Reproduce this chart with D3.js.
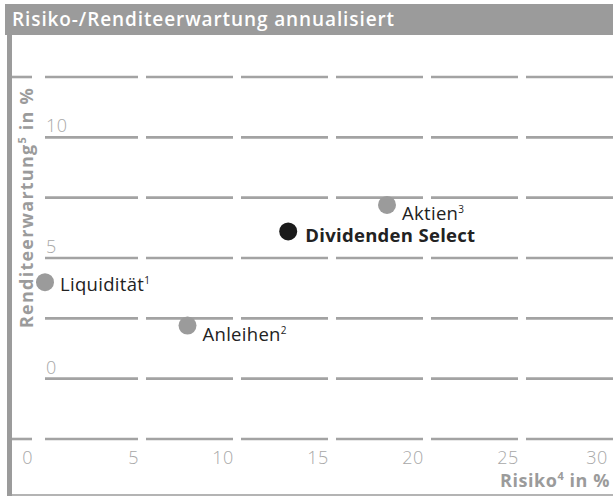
<html>
<head>
<meta charset="utf-8">
<title>Risiko-/Renditeerwartung</title>
<script src="https://d3js.org/d3.v7.min.js"></script>
<style>
    body { margin: 0; background: #fff; }
    text { font-family: "Open Sans", "Noto Sans", sans-serif; }
</style>
</head>
<body>
<script>
    // values
    const names = ["Liquidität", "Anleihen", "Dividenden Select", "Aktien"]
    const notes = ["1", "2", "", "3"]
    const risk = [0, 7.5, 12.8, 18]
    const ret = [4.0, 2.2, 6.1, 7.2]
    const highlight = [false, false, true, false]
    const labelSide = ["right", "below", "right", "below"]

    const xTicks = [0, 5, 10, 15, 20, 25, 30]
    const yTicks = [0, 5, 10]
    const yGrid = [-2.5, 0, 2.5, 5, 7.5, 10, 12.5]

    const W = 613, H = 496
    const grey = "#9b9b9b"

    const svg = d3.select("body").append("svg").attr("width", W).attr("height", H)

    const x = d3.scaleLinear().domain([0, 30]).range([45, 615])
    const y = d3.scaleLinear().domain([-2.5, 12.5]).range([439, 77])

    // stretch a text node to a given width via letter-spacing
    function fit(sel, w) {
        const n = sel.node()
        const len = n.getComputedTextLength()
        const chars = n.textContent.length
        sel.attr("letter-spacing", (w - len) / chars)
    }

    // frame
    svg.append("rect").attr("x", 5).attr("y", 4).attr("width", W - 5).attr("height", 31).attr("fill", grey)
    const title = svg.append("text").attr("x", 12).attr("y", 26)
        .attr("fill", "#fff").attr("font-size", 19).attr("font-weight", 600)
        .text("Risiko-/Renditeerwartung annualisiert")
    fit(title, 383)
    svg.append("rect").attr("x", 7).attr("y", 35).attr("width", 5).attr("height", H - 35).attr("fill", grey)
    svg.append("line").attr("x1", 7).attr("x2", W).attr("y1", 495).attr("y2", 495)
        .attr("stroke", grey).attr("stroke-width", 1.5)

    // dashed horizontal grid: one piece per x interval
    const pieces = []
    yGrid.forEach(g => {
        if (g === yGrid[0] || g === yGrid[yGrid.length - 1]) pieces.push({ g, a: 12, b: 32 })
        d3.pairs(xTicks).forEach(([p, q], i) => {
            pieces.push({ g, a: i === 0 ? x(p) : x(p) + 6, b: q === 30 ? W : x(q) - 2 })
        })
    })
    svg.append("g").selectAll("line").data(pieces).join("line")
        .attr("x1", d => d.a).attr("x2", d => d.b)
        .attr("y1", d => y(d.g)).attr("y2", d => y(d.g))
        .attr("stroke", "#a3a3a3").attr("stroke-width", 2.6)

    // tick labels
    svg.append("g").selectAll("text").data(yTicks).join("text")
        .attr("x", 46).attr("y", d => y(d) - 5)
        .attr("fill", "#a8a8a8").attr("font-size", 18).attr("font-weight", 300)
        .attr("letter-spacing", 0.6)
        .text(d => d)
    svg.append("g").selectAll("text").data(xTicks).join("text")
        .attr("x", d => d === 0 ? 33 : Math.min(x(d) - 1, 608)).attr("y", 464)
        .attr("text-anchor", "end")
        .attr("fill", "#a8a8a8").attr("font-size", 18).attr("font-weight", 300)
        .attr("letter-spacing", 0.6)
        .text(d => d)

    // axis titles
    const xt = svg.append("text").attr("x", 610).attr("y", 487).attr("text-anchor", "end")
        .attr("fill", grey).attr("font-size", 18).attr("font-weight", 700)
    xt.append("tspan").text("Risiko")
    xt.append("tspan").attr("font-size", 11).attr("dy", -7).text("4")
    xt.append("tspan").attr("dy", 7).text(" in %")
    fit(xt, 110)

    const yt = svg.append("text").attr("transform", "translate(33,328) rotate(-90)")
        .attr("fill", grey).attr("font-size", 18).attr("font-weight", 700)
    yt.append("tspan").text("Renditeerwartung")
    yt.append("tspan").attr("font-size", 11).attr("dy", -7).text("5")
    yt.append("tspan").attr("dy", 7).text(" in %")
    fit(yt, 241)

    // points
    const pts = names.map((n, i) => ({ n, note: notes[i], r: risk[i], v: ret[i], hi: highlight[i], side: labelSide[i] }))
    const g = svg.append("g").selectAll("g").data(pts).join("g")
        .attr("transform", d => `translate(${x(d.r)},${y(d.v)})`)
    g.append("circle").attr("r", 9).attr("fill", d => d.hi ? "#1b1b1b" : grey)
    const lab = g.append("text")
        .attr("x", d => d.hi ? 17 : 15)
        .attr("y", d => d.side === "below" ? 15 : (d.hi ? 11 : 9))
        .attr("fill", "#222").attr("font-size", 18.5)
        .attr("font-weight", d => d.hi ? 700 : 400)
        .attr("letter-spacing", 0.3)
    lab.append("tspan").text(d => d.n)
    lab.append("tspan").attr("font-size", 10).attr("dy", -7).text(d => d.note)
</script>
</body>
</html>
